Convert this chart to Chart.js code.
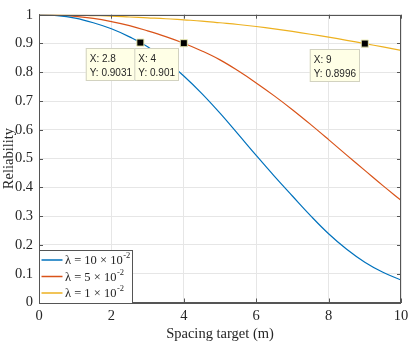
<!DOCTYPE html>
<html>
<head>
<meta charset="utf-8">
<script src="https://cdn.jsdelivr.net/npm/chart.js@4.4.1/dist/chart.umd.min.js"></script>
<style>
  html, body { margin: 0; padding: 0; background: #fff; }
  #wrap { width: 415px; height: 346px; }
</style>
</head>
<body>
<div id="wrap"><canvas id="grafico" width="415" height="346"></canvas></div>
<script>
// DATOS
const spacing = [0, 0.5, 1, 1.5, 2, 2.5, 3, 3.5, 4, 4.5, 5, 5.5, 6, 6.5, 7, 7.5, 8, 8.5, 9, 9.5, 10];
const rel10 = [1, 0.997, 0.988, 0.972, 0.951, 0.923, 0.889, 0.842, 0.787, 0.726, 0.658, 0.585, 0.511, 0.439, 0.37, 0.302, 0.239, 0.185, 0.14, 0.105, 0.078];
const rel5  = [1, 0.998, 0.994, 0.987, 0.976, 0.962, 0.944, 0.924, 0.901, 0.874, 0.843, 0.805, 0.763, 0.718, 0.67, 0.619, 0.566, 0.512, 0.459, 0.406, 0.355];
const rel1  = [1, 1, 0.999, 0.997, 0.995, 0.992, 0.989, 0.986, 0.982, 0.978, 0.972, 0.966, 0.959, 0.951, 0.942, 0.932, 0.922, 0.911, 0.8996, 0.888, 0.876];
const seriesNames = ['\u03bb = 10 \u00d7 10', '\u03bb = 5 \u00d7 10', '\u03bb = 1 \u00d7 10'];
const seriesExp = ['-2', '-2', '-2'];
const tipX = [2.8, 4, 9];
const tipY = [0.9031, 0.901, 0.8996];
const xTicks = [0, 2, 4, 6, 8, 10];
const yTicks = [0, 0.1, 0.2, 0.3, 0.4, 0.5, 0.6, 0.7, 0.8, 0.9, 1];

const colores = ['#0072BD', '#D95319', '#EDB120'];
const ejeColor = '#555555';
const serif = '"Liberation Serif", "Times New Roman", serif';

const pares = (ys) => spacing.map((x, i) => ({ x: x, y: ys[i] }));

// plugin: caja estilo MATLAB, datatips y leyenda
const cajaMatlab = {
  id: 'cajaMatlab',
  afterDatasetsDraw(chart) {
    const { ctx, chartArea: a, scales: { x, y } } = chart;
    ctx.save();

    // marco y ticks hacia adentro
    ctx.strokeStyle = ejeColor;
    ctx.lineWidth = 1;
    ctx.strokeRect(Math.round(a.left) + 0.5, Math.round(a.top) + 0.5, Math.round(a.right - a.left) - 1, Math.round(a.bottom - a.top));
    ctx.beginPath();
    xTicks.forEach(v => {
      const px = Math.round(x.getPixelForValue(v)) + 0.5;
      ctx.moveTo(px, a.bottom); ctx.lineTo(px, a.bottom - 4);
      ctx.moveTo(px, a.top); ctx.lineTo(px, a.top + 4);
    });
    yTicks.forEach(v => {
      const py = Math.round(y.getPixelForValue(v)) + 0.5;
      ctx.moveTo(a.left, py); ctx.lineTo(a.left + 4, py);
      ctx.moveTo(a.right, py); ctx.lineTo(a.right - 4, py);
    });
    ctx.stroke();

    // datatips
    ctx.font = '10px "Liberation Sans", Arial, sans-serif';
    ctx.textBaseline = 'alphabetic';
    ctx.textAlign = 'left';
    tipX.forEach((tx, i) => {
      const mx = x.getPixelForValue(tx);
      const my = y.getPixelForValue(tipY[i]);
      const l1 = 'X: ' + tx;
      const l2 = 'Y: ' + tipY[i];
      const w = Math.max(ctx.measureText(l1).width, ctx.measureText(l2).width) + 8;
      const right = Math.round(mx - 4.5);
      const top = Math.round(my + 5);
      ctx.fillStyle = '#ffffe6';
      ctx.fillRect(right - w, top, w, 33);
      ctx.strokeStyle = '#d2d2c0';
      ctx.strokeRect(right - w + 0.5, top + 0.5, w - 1, 32);
      ctx.fillStyle = '#262626';
      ctx.fillText(l1, right - w + 4, top + 14);
      ctx.fillText(l2, right - w + 4, top + 27.5);
    });

    // leyenda
    const lw = 93, lh = 53;
    const lx = Math.round(a.left), ly = Math.round(a.bottom) - lh;
    ctx.fillStyle = '#ffffff';
    ctx.fillRect(lx, ly, lw, lh);
    ctx.strokeStyle = ejeColor;
    ctx.strokeRect(lx + 0.5, ly + 0.5, lw, lh);
    seriesNames.forEach((nombre, i) => {
      const cy = ly + 10 + i * 16.5;
      ctx.strokeStyle = colores[i];
      ctx.lineWidth = 1.5;
      ctx.beginPath();
      ctx.moveTo(lx + 2.5, cy); ctx.lineTo(lx + 23.5, cy);
      ctx.stroke();
      ctx.fillStyle = '#262626';
      ctx.font = '12.5px ' + serif;
      ctx.textBaseline = 'middle';
      ctx.fillText(nombre, lx + 26, cy + 1);
      const tw = ctx.measureText(nombre).width;
      ctx.font = '8.5px ' + serif;
      ctx.fillText(seriesExp[i], lx + 26 + tw + 0.5, cy - 4);
    });
    ctx.restore();
  }
};

const ctx = document.getElementById('grafico').getContext('2d');
const lineaBase = { pointRadius: 0, borderWidth: 1.2, fill: false, tension: 0.4 };
const fuente = { family: serif, size: 14.5 };

new Chart(ctx, {
  type: 'line',
  data: {
    datasets: [
      Object.assign({ label: 'tips', type: 'scatter', data: tipX.map((v, i) => ({ x: v, y: tipY[i] })),
        pointStyle: 'rect', pointRadius: 5, backgroundColor: '#000000', borderColor: '#e8e8b0', borderWidth: 1, order: -1 }),
      Object.assign({ label: seriesNames[0], data: pares(rel10), borderColor: colores[0] }, lineaBase),
      Object.assign({ label: seriesNames[1], data: pares(rel5), borderColor: colores[1] }, lineaBase),
      Object.assign({ label: seriesNames[2], data: pares(rel1), borderColor: colores[2] }, lineaBase)
    ]
  },
  options: {
    responsive: false,
    animation: false,
    layout: { padding: { left: 0, top: 10, right: 14, bottom: 0 } },
    plugins: { legend: { display: false }, tooltip: { enabled: false } },
    scales: {
      x: {
        type: 'linear', min: 0, max: 10,
        afterBuildTicks: s => { s.ticks = xTicks.map(v => ({ value: v })); },
        afterFit: s => { s.height = 43.5; },
        grid: { color: '#e6e6e6', drawTicks: false },
        border: { color: ejeColor },
        ticks: { padding: 5, color: '#262626', font: fuente, maxRotation: 0 },
        title: { display: true, text: 'Spacing target (m)', color: '#262626', font: fuente, padding: { top: 0, bottom: 3 } }
      },
      y: {
        type: 'linear', min: 0, max: 1,
        afterBuildTicks: s => { s.ticks = yTicks.map(v => ({ value: v })); },
        afterFit: s => { s.width = 39; },
        grid: { color: '#e6e6e6', drawTicks: false },
        border: { color: ejeColor },
        ticks: { padding: 6, color: '#262626', font: fuente, callback: v => String(+v.toFixed(1)) },
        title: { display: true, text: 'Reliability', color: '#262626', font: fuente, padding: 0 }
      }
    }
  },
  plugins: [cajaMatlab]
});
</script>
</body>
</html>
